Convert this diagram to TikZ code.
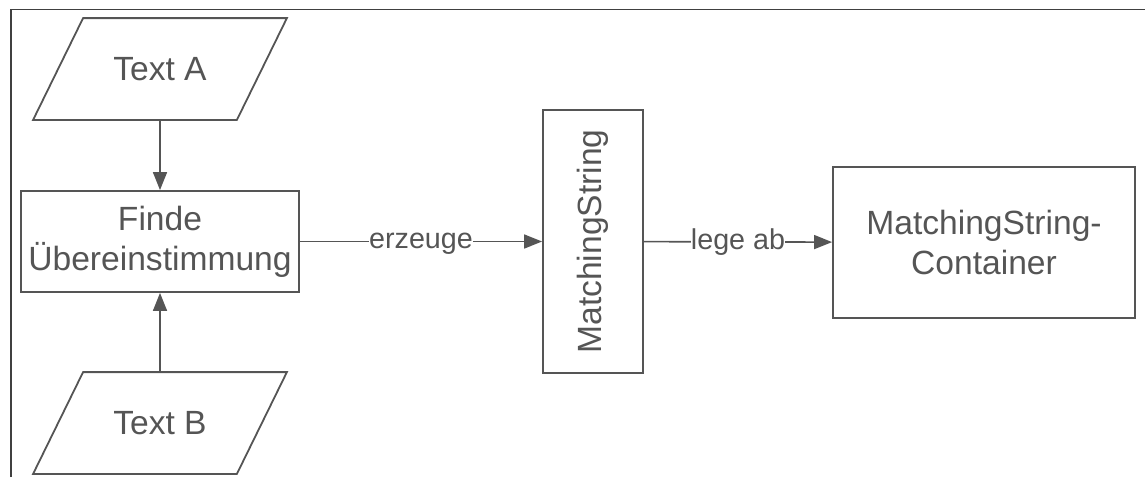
\documentclass[tikz,border=0pt]{standalone}
\usepackage{fontspec}
\setmainfont{Liberation Sans}
\usetikzlibrary{arrows.meta,positioning}
\definecolor{ink}{HTML}{555555}
\definecolor{framegray}{HTML}{404040}
\tikzset{
  box/.style={draw=ink, line width=1.8pt, text=ink, align=center, inner sep=0pt,
    font=\fontsize{33.6}{40}\selectfont},
  io/.style={box, draw=none, minimum width=202pt, minimum height=100pt},
  flow/.style={draw=ink, line width=1.6pt, -{Triangle[length=18pt,width=14pt]}},
  lbl/.style={fill=white, text=ink, inner sep=0pt, text height=14.9pt, text depth=0pt,
    font=\fontsize{28.7}{32}\selectfont},
}
\begin{document}
\begin{tikzpicture}[x=1pt,y=1pt]
  \useasboundingbox (0,0) rectangle (1145,-477);
  \draw[framegray, line width=1.5pt] (11,-477) -- (11,-9.5) -- (1145,-9.5);
  \draw
    (160,-69) node[io] (textA){Text A}
    (160,-241.5) node[box, minimum width=278pt, minimum height=101pt] (finde){Finde\\Übereinstimmung}
    (160,-423) node[io] (textB){Text B}
    (593,-241.5) node[box, minimum width=100pt, minimum height=263pt] (match){\rotatebox{90}{MatchingString}}
    (984,-242.5) node[box, minimum width=302pt, minimum height=151pt] (store){MatchingString-\\Container};
  % parallelograms round the two inputs
  \foreach \n in {textA,textB}
    \draw[ink, line width=1.8pt] ([xshift=25pt]\n.north west) -- ([xshift=25pt]\n.north east)
      -- ([xshift=-25pt]\n.south east) -- ([xshift=-25pt]\n.south west) -- cycle;
  \begin{scope}[flow]
    \draw (textA) to (finde);
    \draw (textB) to (finde);
    \draw (finde) to node[lbl]{erzeuge} (match);
    \draw (match) to node[lbl]{lege ab} (store);
  \end{scope}
\end{tikzpicture}
\end{document}
